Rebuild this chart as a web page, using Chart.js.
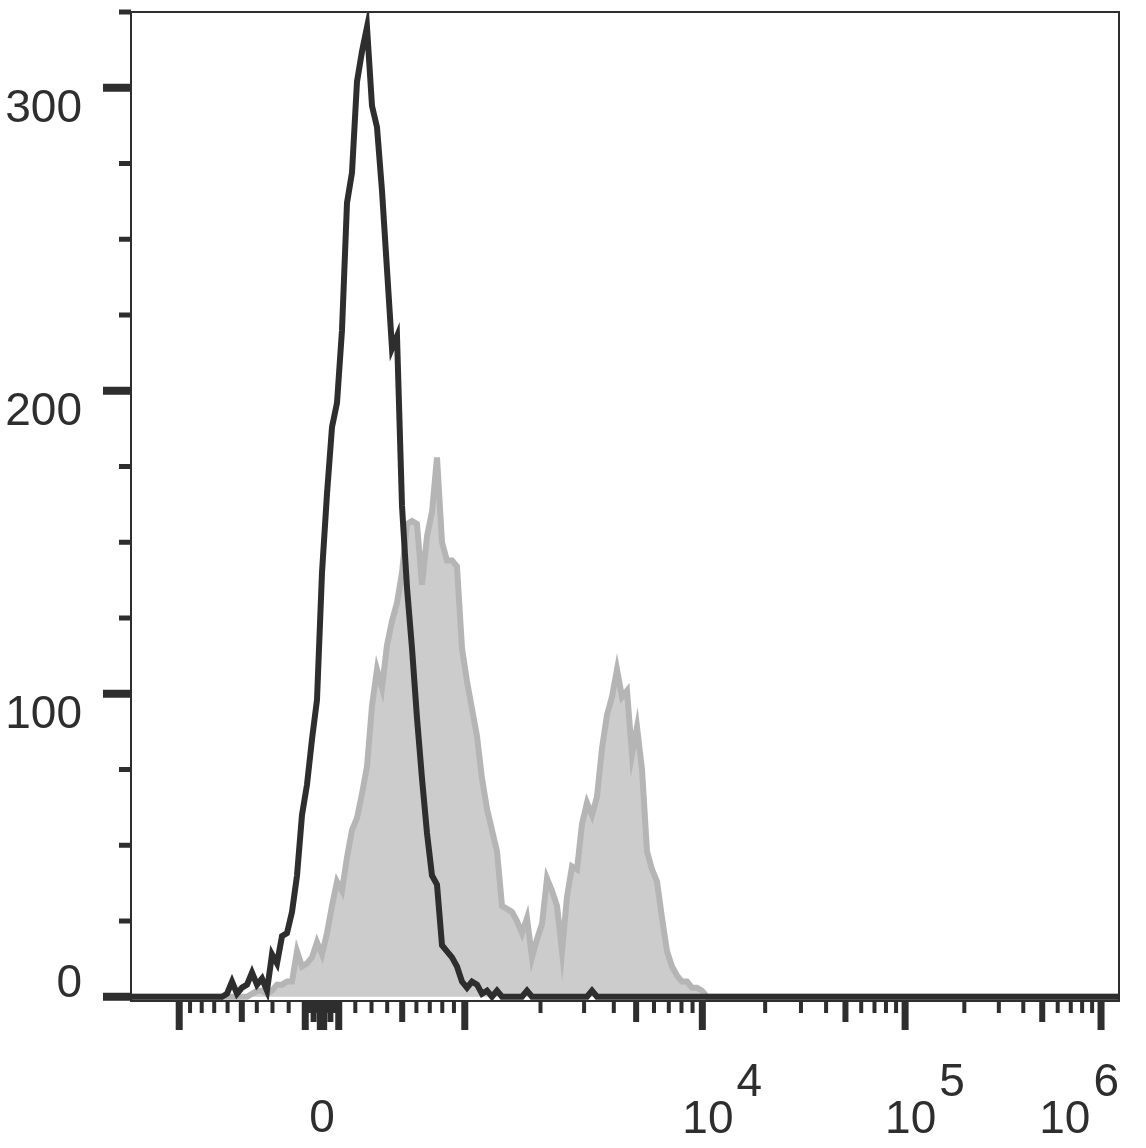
<!DOCTYPE html>
<html>
<head>
<meta charset="utf-8">
<script src="https://cdn.jsdelivr.net/npm/chart.js@4.4.1/dist/chart.umd.min.js"></script>
<style>
  body { margin: 0; background: #fff; }
  canvas { display: block; }
</style>
</head>
<body>
<canvas id="chart" width="1146" height="1148"></canvas>
<script>
// histogram bins, evenly spaced on the display axis
const binStart = -0.5;
const binStep = 0.025;

// isotype control (black outline)
const isotypeCounts = [
  0, 1, 5, 1, 3, 4, 8, 4, 6, 2,
  14, 11, 20, 21, 28, 40, 60, 70, 85, 98,
  140, 166, 188, 196, 220, 262, 272, 302, 312, 320,
  294, 287, 266, 240, 214, 218, 162, 135, 115, 92,
  72, 54, 40, 37, 17, 15, 13, 10, 5, 3,
  5, 4, 1, 2, 0, 2, 0, 0, 0, 0,
  0, 2, 0, 0, 0, 0, 0, 0, 0, 0,
  0, 0, 0, 0, 2, 0, 0, 0, 0, 0,
  0, 0, 0, 0, 0, 0, 0, 0, 0, 0,
  0, 0, 0, 0, 0, 0, 0, 0
];

// stained sample (grey filled)
const stainedCounts = [
  0, 0, 0, 0, 0, 0, 1, 2, 2, 1,
  2, 4, 4, 5, 5, 15, 10, 11, 13, 18,
  14, 21, 30, 38, 35, 46, 55, 59, 67, 76,
  96, 108, 102, 116, 124, 130, 140, 156, 157, 156,
  136, 152, 160, 178, 150, 144, 144, 142, 115, 104,
  95, 86, 72, 62, 55, 48, 30, 29, 28, 25,
  21, 26, 13, 19, 24, 39, 35, 30, 15, 33,
  43, 42, 57, 64, 60, 66, 82, 93, 99, 108,
  99, 101, 80, 89, 75, 48, 42, 38, 26, 15,
  10, 7, 5, 5, 3, 3, 2, 0
];

const yMajorTicks = [0, 100, 200, 300];
const yMinorStep = 25;
const xLabelValues = [0, 1e4, 1e5, 1e6];
const xLabelExponents = ['', '4', '5', '6'];

const xMin = -0.955, xMax = 3.985;
const yMin = -1.4, yMax = 325;

// biexponential (logicle-like) transform: decades <-> intensity
const K = 101, P = 4, DECADE = 0.975;
function biexValue(d) {
  const a = Math.abs(d);
  const v = K * (Math.pow(10, a) - P * P * Math.pow(10, -a / P) + P * P - 1);
  return d < 0 ? -v : v;
}
function biexDisplay(v) {
  const t = Math.abs(v);
  let lo = 0, hi = 8;
  for (let i = 0; i < 60; i++) {
    const mid = (lo + hi) / 2;
    if (biexValue(mid) < t) lo = mid; else hi = mid;
  }
  return (v < 0 ? -lo : lo) * DECADE;
}

// x tick marks: decades long, fives medium, others short
const xTickMarks = [{ v: 0, kind: 'long' }];
for (let n = 1; n <= 5; n++) {
  for (let m = 1; m <= 9; m++) {
    const kind = m === 1 ? 'long' : (m === 5 ? 'mid' : 'short');
    xTickMarks.push({ v: m * Math.pow(10, n), kind: kind });
    if (n <= 2) xTickMarks.push({ v: -m * Math.pow(10, n), kind: kind });
  }
}
xTickMarks.push({ v: 1e6, kind: 'long' }, { v: -1000, kind: 'long' });

function toPoints(counts) {
  const pts = [{ x: xMin, y: 0 }];
  counts.forEach(function(c, i) {
    pts.push({ x: binStart + i * binStep, y: c });
  });
  pts.push({ x: xMax, y: 0 });
  return pts;
}

const ink = '#2e2e2e';
const labelFont = '46px "Liberation Sans", Arial, sans-serif';

const axesPlugin = {
  id: 'flowAxes',
  afterDraw(chart) {
    const ctx = chart.ctx;
    const area = chart.chartArea;
    const xs = chart.scales.x, ys = chart.scales.y;
    ctx.save();
    ctx.fillStyle = ink;
    ctx.strokeStyle = ink;

    // frame
    ctx.lineWidth = 2;
    ctx.strokeRect(area.left, area.top, area.right - area.left, area.bottom - area.top);

    // y ticks
    for (let v = 0; v <= yMax; v += yMinorStep) {
      const py = ys.getPixelForValue(v);
      if (yMajorTicks.includes(v)) {
        ctx.fillRect(area.left - 28, py - 4, 28, 8);
      } else {
        ctx.fillRect(area.left - 12, py - 2.5, 12, 5);
      }
    }

    // y labels
    ctx.font = labelFont;
    ctx.textAlign = 'right';
    ctx.textBaseline = 'alphabetic';
    yMajorTicks.forEach(function(v) {
      const py = ys.getPixelForValue(v);
      const off = v === 0 ? 0 : 34;
      ctx.fillText(String(v), 82, py + off);
    });

    // x ticks
    const lens = { long: 28, mid: 20, short: 11 };
    const widths = { long: 7, mid: 6, short: 4 };
    xTickMarks.forEach(function(t) {
      const px = xs.getPixelForValue(biexDisplay(t.v));
      if (px < area.left || px > area.right) return;
      ctx.fillRect(px - widths[t.kind] / 2, area.bottom + 1, widths[t.kind], lens[t.kind]);
    });

    // x labels
    ctx.textAlign = 'left';
    xLabelValues.forEach(function(v, i) {
      const px = xs.getPixelForValue(biexDisplay(v));
      const exp = xLabelExponents[i];
      if (!exp) {
        ctx.textAlign = 'center';
        ctx.fillText('0', px, 1132);
        ctx.textAlign = 'left';
        return;
      }
      const baseW = ctx.measureText('10').width;
      const expW = ctx.measureText(exp).width;
      let left = px - 20;
      const total = baseW + 3 + expW;
      if (left + total > area.right) left = area.right - total;
      ctx.fillText('10', left, 1133);
      ctx.fillText(exp, left + baseW + 3, 1096);
    });
    ctx.restore();
  }
};

const ctx = document.getElementById('chart').getContext('2d');
new Chart(ctx, {
  type: 'line',
  data: {
    datasets: [{
      label: 'Isotype',
      data: toPoints(isotypeCounts),
      borderColor: ink,
      borderWidth: 6,
      fill: false,
      order: 0
    }, {
      label: 'Stained',
      data: toPoints(stainedCounts),
      borderColor: '#b5b5b5',
      backgroundColor: '#cccccc',
      borderWidth: 6,
      fill: 'origin',
      order: 1
    }]
  },
  options: {
    responsive: false,
    animation: false,
    devicePixelRatio: 1,
    layout: { padding: { left: 131, right: 27, top: 12, bottom: 147 } },
    elements: {
      point: { radius: 0 },
      line: { tension: 0, borderJoinStyle: 'miter' }
    },
    plugins: { legend: { display: false }, tooltip: { enabled: false } },
    scales: {
      x: { type: 'linear', min: xMin, max: xMax, display: false },
      y: { type: 'linear', min: yMin, max: yMax, display: false }
    }
  },
  plugins: [axesPlugin]
});
</script>
</body>
</html>
